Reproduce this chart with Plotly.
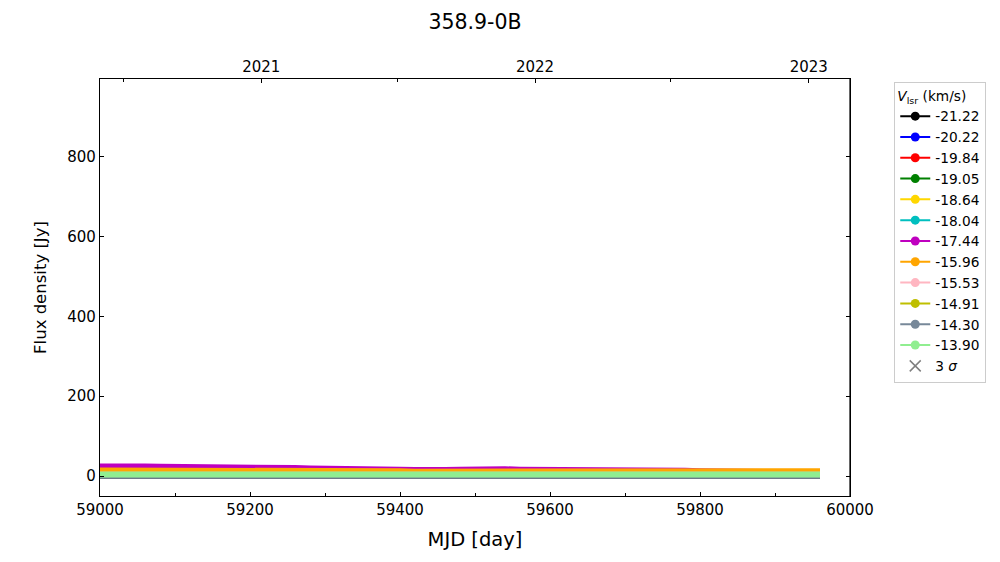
import plotly.graph_objects as go

mjd = [59000, 59020, 59040, 59060, 59080, 59100, 59120,
       59140, 59160, 59180, 59200, 59220, 59240, 59260,
       59280, 59300, 59320, 59340, 59360, 59380, 59400,
       59420, 59440, 59460, 59480, 59500, 59520, 59540,
       59560, 59580, 59600, 59620, 59640, 59660, 59680,
       59700, 59720, 59740, 59760, 59780, 59800, 59820,
       59840, 59860, 59880, 59900, 59920, 59940, 59960]

vlsr_labels = ["-21.22", "-20.22", "-19.84", "-19.05", "-18.64", "-18.04",
               "-17.44", "-15.96", "-15.53", "-14.91", "-14.30", "-13.90"]
colors = ["#000000", "#0000FF", "#FF0000", "#008000", "#FFD700", "#00BFBF",
          "#BF00BF", "#FFA500", "#FFB6C1", "#BFBF00", "#778899", "#90EE90"]

f_2122 = [-5, -5, -5, -5, -5, -5, -5,
          -5, -5, -5, -5, -5, -5, -5,
          -5, -5, -5, -5, -5, -5, -5,
          -5, -5, -5, -5, -5, -5, -5,
          -5, -5, -5, -5, -5, -5, -5,
          -5, -5, -5, -5, -5, -5, -5,
          -5, -5, -5, -5, -5, -5, -5]
f_2022 = [1, 1, 1, 1, 1, 1, 1,
          1, 1, 1, 1, 1, 1, 1,
          1, 1, 1, 1, 1, 1, 1,
          1, 1, 1, 1, 1, 1, 1,
          1, 1, 1, 1, 1, 1, 1,
          1, 1, 1, 1, 1, 1, 1,
          1, 1, 1, 1, 1, 1, 1]
f_1984 = [2, 2, 2, 2, 2, 2, 2,
          2, 2, 2, 2, 2, 2, 2,
          2, 2, 2, 2, 2, 2, 2,
          2, 2, 2, 2, 2, 2, 2,
          2, 2, 2, 2, 2, 2, 2,
          2, 2, 2, 2, 2, 2, 2,
          2, 2, 2, 2, 2, 2, 2]
f_1905 = [2, 2, 2, 2, 2, 2, 2,
          2, 2, 2, 2, 2, 2, 2,
          2, 2, 2, 2, 2, 2, 2,
          2, 2, 2, 2, 2, 2, 2,
          2, 2, 2, 2, 2, 2, 2,
          2, 2, 2, 2, 2, 2, 2,
          2, 2, 2, 2, 2, 2, 2]
f_1864 = [6, 6, 6, 6, 6, 6, 6,
          7, 6, 6, 6, 6, 6, 6,
          6, 6, 6, 6, 6, 6, 6,
          6, 6, 6, 6, 6, 6, 6,
          6, 6, 6, 6, 6, 6, 6,
          6, 6, 6, 6, 6, 6, 6,
          6, 6, 6, 6, 6, 6, 6]
f_1804 = [3, 3, 3, 3, 3, 3, 3,
          3, 3, 3, 3, 3, 3, 3,
          3, 3, 3, 3, 3, 3, 3,
          3, 3, 3, 3, 3, 3, 3,
          3, 3, 3, 3, 3, 3, 3,
          3, 3, 3, 3, 3, 3, 3,
          3, 3, 3, 3, 3, 3, 3]
f_1744 = [24, 25, 25, 24, 23, 23, 22,
          23, 22, 21, 21, 20, 20, 20,
          19, 19, 18, 18, 17, 17, 16,
          15, 14, 15, 16, 17, 17, 17,
          16, 16, 16, 16, 16, 15, 16,
          16, 15, 15, 14, 13, 12, 11,
          11, 11, 10, 10, 10, 10, 10]
f_1596 = [14, 14, 13, 13, 13, 13, 14,
          15, 14, 13, 13, 13, 13, 13,
          12, 12, 12, 12, 12, 12, 12,
          11, 11, 11, 11, 11, 11, 12,
          12, 12, 12, 11, 11, 11, 11,
          12, 12, 12, 12, 12, 12, 12,
          12, 12, 12, 12, 12, 12, 12]
f_1553 = [3, 3, 3, 3, 3, 3, 3,
          3, 3, 3, 3, 3, 3, 3,
          3, 3, 3, 3, 3, 3, 3,
          3, 3, 3, 3, 3, 3, 3,
          3, 3, 3, 3, 3, 3, 3,
          3, 3, 3, 3, 3, 3, 3,
          3, 3, 3, 3, 3, 3, 3]
f_1491 = [2, 2, 2, 2, 2, 2, 2,
          2, 2, 2, 2, 2, 2, 2,
          2, 2, 2, 2, 2, 2, 2,
          2, 2, 2, 2, 2, 2, 2,
          2, 2, 2, 2, 2, 2, 2,
          2, 2, 2, 2, 2, 2, 2,
          2, 2, 2, 2, 2, 2, 2]
f_1430 = [1, 1, 1, 1, 1, 1, 1,
          1, 1, 1, 1, 1, 1, 1,
          1, 1, 1, 1, 1, 1, 1,
          1, 1, 1, 1, 1, 1, 1,
          1, 1, 1, 1, 1, 1, 1,
          1, 1, 1, 1, 1, 1, 1,
          1, 1, 1, 1, 1, 1, 1]
f_1390 = [4, 4, 4, 4, 4, 4, 4,
          4, 4, 4, 4, 4, 4, 4,
          4, 4, 4, 4, 4, 4, 4,
          4, 4, 4, 4, 4, 4, 4,
          4, 4, 4, 4, 4, 4, 4,
          4, 4, 4, 4, 4, 4, 4,
          4, 4, 4, 4, 4, 4, 4]

series = [f_2122, f_2022, f_1984, f_1905, f_1864, f_1804,
          f_1744, f_1596, f_1553, f_1491, f_1430, f_1390]

mjd_ticks = [59000, 59200, 59400, 59600, 59800, 60000]
mjd_minor = [59100, 59300, 59500, 59700, 59900]
flux_ticks = [0, 200, 400, 600, 800]
year_ticks = [59215, 59580, 59945]
year_labels = ["2021", "2022", "2023"]
half_year_ticks = [59031, 59396, 59761]

FONT = "DejaVu Sans"
fig = go.Figure()

for lab, col, ys in zip(vlsr_labels, colors, series):
    w = 1.5 if lab == "-21.22" else 6
    fig.add_trace(go.Scatter(x=mjd, y=ys, mode="lines", showlegend=False,
                             line=dict(color=col, width=w)))

for lab, col in zip(vlsr_labels, colors):
    fig.add_trace(go.Scatter(x=[None], y=[None], mode="lines+markers", name=lab,
                             line=dict(color=col, width=2),
                             marker=dict(color=col, size=9)))
fig.add_trace(go.Scatter(x=[None], y=[None], mode="markers", name="3 <i>σ</i>",
                         marker=dict(color="#808080", symbol="x-thin", size=11,
                                     line=dict(color="#808080", width=1.5))))

fig.add_trace(go.Scatter(x=[59000, 60000], y=[None, None], xaxis="x2",
                         showlegend=False, hoverinfo="skip"))

axis_common = dict(showline=True, linecolor="black", linewidth=1.2,
                   ticks="inside", ticklen=4, tickcolor="black", showgrid=False,
                   zeroline=False, automargin=False,
                   tickfont=dict(family=FONT, size=15, color="black"))

fig.update_layout(
    width=1000, height=562,
    paper_bgcolor="white", plot_bgcolor="white",
    margin=dict(l=92, r=158, t=71, b=74),
    font=dict(family=FONT, color="black"),
    title=dict(text="358.9-0B", x=0.5, xref="paper", xanchor="center",
               yref="container", y=0.975, yanchor="middle",
               font=dict(family=FONT, size=20.5)),
    xaxis=dict(range=[59000, 60000], tickvals=mjd_ticks, tickformat="d",
               minor=dict(tickvals=mjd_minor, ticks="inside",
                          ticklen=3, tickcolor="black"),
               title=dict(text="MJD [day]", font=dict(family=FONT, size=19.5), standoff=14),
               **axis_common),
    xaxis2=dict(range=[59000, 60000], overlaying="x", side="top", anchor="y",
                tickvals=year_ticks, ticktext=year_labels,
                minor=dict(tickvals=half_year_ticks, ticks="inside", ticklen=3,
                           tickcolor="black"),
                **axis_common),
    yaxis=dict(range=[-50, 995], tickvals=flux_ticks, mirror="ticks",
               title=dict(text="Flux density [Jy]", font=dict(family=FONT, size=16.5), standoff=16),
               **axis_common),
    legend=dict(x=1.059, y=0.993, xanchor="left", yanchor="top",
                bordercolor="#cccccc", borderwidth=1, bgcolor="white",
                font=dict(family=FONT, size=13.7),
                title=dict(text="<i>V</i><sub>lsr</sub> (km/s)", side="top",
                           font=dict(family=FONT, size=13.7)),
                itemwidth=30, tracegroupgap=0),
)
fig.add_shape(type="line", xref="paper", yref="paper", x0=1, x1=1, y0=0, y1=1,
              line=dict(color="black", width=1.2))

fig.write_html("out.html")
